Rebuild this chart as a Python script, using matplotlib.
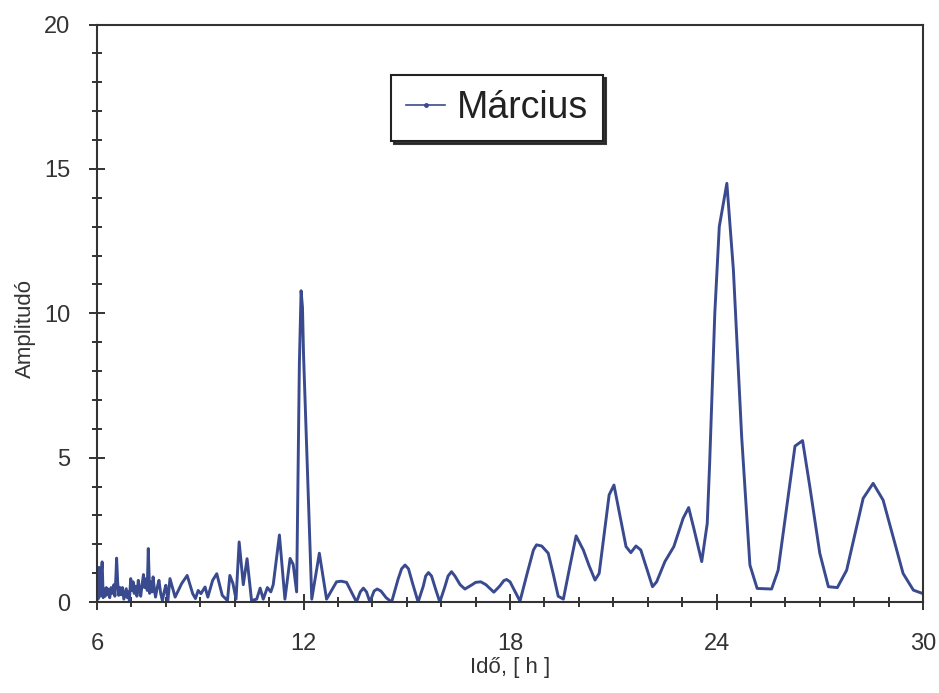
import matplotlib
matplotlib.use("Agg")
import matplotlib.pyplot as plt
from matplotlib.lines import Line2D
from matplotlib.ticker import MultipleLocator

plt.rcParams['font.family'] = ['Liberation Sans', 'DejaVu Sans']

# periodogram, March
hours = [
    6.00, 6.03, 6.06, 6.09, 6.12, 6.15, 6.18, 6.21, 6.24, 6.27,
    6.30, 6.33, 6.37, 6.41, 6.45, 6.49, 6.52, 6.55, 6.57, 6.60,
    6.63, 6.67, 6.70, 6.74, 6.78, 6.82, 6.85, 6.88, 6.91, 6.94,
    6.98, 7.01, 7.05, 7.08, 7.12, 7.16, 7.20, 7.24, 7.27, 7.31,
    7.35, 7.38, 7.42, 7.46, 7.49, 7.53, 7.56, 7.60, 7.63, 7.67,
    7.70, 7.75, 7.80, 7.85, 7.90, 7.95, 8.00, 8.06, 8.12, 8.27,
    8.46, 8.62, 8.78, 8.86, 8.94, 9.02, 9.14, 9.22, 9.36, 9.48,
    9.64, 9.79, 9.86, 9.95, 10.04, 10.13, 10.25, 10.36, 10.49, 10.64,
    10.74, 10.83, 10.95, 11.05, 11.12, 11.30, 11.46, 11.61, 11.70, 11.80,
    11.88, 11.93, 11.97, 12.00, 12.24, 12.46, 12.67, 12.96, 13.10, 13.25,
    13.54, 13.65, 13.74, 13.83, 13.93, 14.05, 14.14, 14.25, 14.40, 14.56,
    14.75, 14.85, 14.95, 15.05, 15.18, 15.33, 15.48, 15.55, 15.63, 15.72,
    15.85, 15.96, 16.10, 16.20, 16.30, 16.40, 16.55, 16.69, 16.90, 17.00,
    17.15, 17.30, 17.53, 17.70, 17.82, 17.90, 18.00, 18.15, 18.29, 18.50,
    18.68, 18.77, 18.92, 19.11, 19.25, 19.40, 19.55, 19.75, 19.92, 20.13,
    20.30, 20.47, 20.59, 20.88, 21.02, 21.37, 21.51, 21.66, 21.80, 22.14,
    22.26, 22.50, 22.76, 23.03, 23.19, 23.34, 23.57, 23.73, 23.80, 23.95,
    24.08, 24.30, 24.49, 24.73, 24.97, 25.18, 25.60, 25.79, 26.28, 26.50,
    26.71, 27.00, 27.25, 27.51, 27.78, 28.26, 28.55, 28.84, 29.42, 29.72,
    30.00,
]
amplitude = [
    0.55, 0.10, 1.20, 0.20, 0.90, 1.39, 0.15, 0.45, 0.20, 0.50,
    0.25, 0.45, 0.15, 0.50, 0.30, 0.60, 0.20, 0.90, 1.52, 0.70,
    0.23, 0.50, 0.25, 0.50, 0.10, 0.30, 0.46, 0.15, 0.35, 0.05,
    0.81, 0.40, 0.70, 0.30, 0.55, 0.20, 0.75, 0.40, 0.20, 0.60,
    0.95, 0.50, 0.80, 0.40, 1.85, 0.30, 0.70, 0.35, 0.87, 0.40,
    0.17, 0.50, 0.75, 0.30, 0.05, 0.35, 0.58, 0.05, 0.81, 0.17,
    0.64, 0.92, 0.29, 0.12, 0.40, 0.29, 0.52, 0.17, 0.75, 0.98,
    0.23, 0.05, 0.92, 0.64, 0.10, 2.08, 0.60, 1.50, 0.05, 0.10,
    0.48, 0.10, 0.50, 0.35, 0.60, 2.32, 0.10, 1.51, 1.30, 0.35,
    8.27, 10.78, 10.20, 8.60, 0.10, 1.69, 0.10, 0.70, 0.72, 0.68,
    0.00, 0.35, 0.48, 0.35, 0.00, 0.38, 0.45, 0.38, 0.15, 0.00,
    0.80, 1.15, 1.28, 1.15, 0.60, 0.00, 0.55, 0.90, 1.02, 0.90,
    0.40, 0.00, 0.50, 0.90, 1.05, 0.90, 0.60, 0.45, 0.60, 0.68,
    0.70, 0.60, 0.34, 0.55, 0.74, 0.78, 0.70, 0.35, 0.03, 1.00,
    1.80, 1.98, 1.94, 1.69, 1.00, 0.20, 0.10, 1.30, 2.29, 1.80,
    1.25, 0.76, 0.99, 3.71, 4.05, 1.92, 1.71, 1.94, 1.80, 0.53,
    0.70, 1.40, 1.92, 2.90, 3.27, 2.55, 1.40, 2.72, 4.80, 10.00,
    13.00, 14.50, 11.50, 5.73, 1.28, 0.47, 0.45, 1.10, 5.40, 5.59,
    4.00, 1.69, 0.53, 0.50, 1.10, 3.59, 4.11, 3.53, 0.99, 0.41,
    0.29,
]

x_ticks = [6, 12, 18, 24, 30]
y_ticks = [0, 5, 10, 15, 20]

line_color = '#3a4a8e'
axis_color = '#333333'

fig = plt.figure(figsize=(9.39, 6.93), dpi=100)
ax = fig.add_axes([0.1033, 0.1313, 0.8797, 0.8333])

ax.plot(hours, amplitude, color=line_color, linewidth=2.1)

ax.set_xlim(6, 30)
ax.set_ylim(0, 20)
ax.set_xticks(x_ticks)
ax.set_yticks(y_ticks)
ax.xaxis.set_minor_locator(MultipleLocator(1))
ax.yaxis.set_minor_locator(MultipleLocator(1))

ax.tick_params(which='both', direction='inout', colors=axis_color,
               top=False, right=False, labelsize=17, width=1.4)
ax.tick_params(which='major', length=12)
ax.tick_params(which='minor', length=7)
ax.tick_params(axis='x', which='major', pad=16)
ax.tick_params(axis='y', which='major', pad=13)

for spine in ax.spines.values():
    spine.set_linewidth(1.5)
    spine.set_color(axis_color)

ax.set_xlabel('Idő, [ h ]', fontsize=16, color=axis_color, labelpad=2)
ax.set_ylabel('Amplitudó', fontsize=16, color=axis_color)
ax.yaxis.set_label_coords(-0.074, 0.474)

# legend entry: thin line with a small point marker
handle = Line2D([], [], color=line_color, linewidth=1.2,
                marker='o', markersize=2.5)
leg = ax.legend([handle], ['Március'], loc='center',
                bbox_to_anchor=(0.484, 0.855), fontsize=27,
                frameon=True, fancybox=False,
                shadow={'color': '#222222', 'alpha': 0.9},
                handlelength=1.05, handletextpad=0.3, borderpad=0.4,
                borderaxespad=0)
leg.get_frame().set_edgecolor('#222222')
leg.get_frame().set_linewidth(1.5)
for txt in leg.get_texts():
    txt.set_color('#222222')

fig.savefig('out.png', dpi=100)
